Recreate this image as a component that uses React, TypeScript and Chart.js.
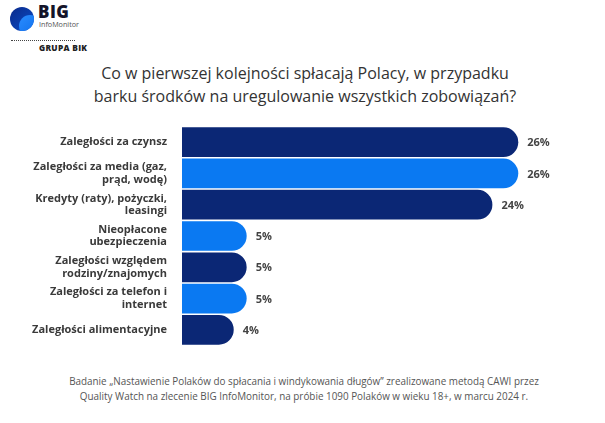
import React, { useEffect, useRef } from "react";
import { Chart, registerables } from "chart.js";

Chart.register(...registerables);

const categories: string[][] = [
  ["Zaległości za czynsz"],
  ["Zaległości za media (gaz,", "prąd, wodę)"],
  ["Kredyty (raty), pożyczki,", "leasingi"],
  ["Nieopłacone", "ubezpieczenia"],
  ["Zaległości względem", "rodziny/znajomych"],
  ["Zaległości za telefon i", "internet"],
  ["Zaległości alimentacyjne"],
];
const values: number[] = [26, 26, 24, 5, 5, 5, 4];
const barColors: string[] = ["#0b2775", "#0a79f2", "#0b2775", "#0a79f2", "#0b2775", "#0a79f2", "#0b2775"];

const titleLines: string[] = [
  "Co w pierwszej kolejności spłacają Polacy, w przypadku",
  "barku środków na uregulowanie wszystkich zobowiązań?",
];
const footerLines: string[] = [
  "Badanie „Nastawienie Polaków do spłacania i windykowania długów” zrealizowane metodą CAWI przez",
  "Quality Watch na zlecenie BIG InfoMonitor, na próbie 1090 Polaków w wieku 18+, w marcu 2024 r.",
];

const FONT = "'Open Sans', 'Noto Sans', sans-serif";

const valueLabelPlugin = {
  id: "valueLabels",
  afterDatasetsDraw(chart: any) {
    const ctx = chart.ctx;
    const meta = chart.getDatasetMeta(0);
    ctx.save();
    ctx.font = `bold 11px ${FONT}`;
    ctx.fillStyle = "#444444";
    ctx.textAlign = "left";
    ctx.textBaseline = "middle";
    meta.data.forEach((bar: any, i: number) => {
      ctx.fillText(`${values[i]}%`, bar.x + 9, bar.y + 1);
    });
    ctx.restore();
  },
};

export default function App() {
  const canvasRef = useRef<HTMLCanvasElement | null>(null);

  useEffect(() => {
    if (!canvasRef.current) return;
    const chart = new Chart(canvasRef.current, {
      type: "bar",
      data: {
        labels: categories,
        datasets: [
          {
            data: values,
            backgroundColor: barColors,
            borderRadius: 20,
            borderSkipped: "start",
            barPercentage: 0.95,
            categoryPercentage: 1,
          },
        ],
      },
      options: {
        indexAxis: "y",
        animation: false,
        responsive: false,
        maintainAspectRatio: false,
        layout: { padding: { left: 0, right: 35, top: 16.5, bottom: 14.5 } },
        plugins: {
          legend: { display: false },
          tooltip: { enabled: false },
          title: { display: false },
        },
        scales: {
          x: {
            display: false,
            min: 0,
            max: 30,
          },
          y: {
            grid: { display: false, drawTicks: false },
            border: { display: false },
            ticks: {
              color: "#3a3a3a",
              font: { family: FONT, size: 11, weight: "bold", lineHeight: 1.15 },
              padding: 15,
              autoSkip: false,
            },
            afterFit: (scale: any) => {
              scale.width = 182;
              scale.paddingTop = 0;
              scale.paddingBottom = 0;
            },
          },
        },
      },
      plugins: [valueLabelPlugin],
    });
    return () => chart.destroy();
  }, []);

  return (
    <div
      style={{
        position: "absolute",
        left: 0,
        top: 0,
        width: 605,
        height: 423,
        background: "#ffffff",
        fontFamily: FONT,
        overflow: "hidden",
      }}
    >
      {/* Logo */}
      <div
        style={{
          position: "absolute",
          left: 10,
          top: 7,
          width: 24,
          height: 24,
          borderRadius: "50%",
          background: "linear-gradient(135deg, #0b2a8a 0%, #0a3fb0 60%, #1a5fd8 100%)",
          overflow: "hidden",
        }}
      >
        <div
          style={{
            position: "absolute",
            left: 9,
            top: 8,
            width: 22,
            height: 22,
            borderRadius: "50%",
            background: "linear-gradient(135deg, #2a8cff 0%, #0a6ae8 100%)",
          }}
        />
      </div>
      <div
        style={{
          position: "absolute",
          left: 38,
          top: 3,
          fontSize: 17,
          fontWeight: 800,
          color: "#14142a",
          lineHeight: "18px",
          letterSpacing: 0.5,
        }}
      >
        BIG
      </div>
      <div
        style={{
          position: "absolute",
          left: 39,
          top: 20,
          fontSize: 7.2,
          color: "#555555",
          lineHeight: "9px",
        }}
      >
        InfoMonitor
      </div>
      <div
        style={{
          position: "absolute",
          left: 11,
          top: 40,
          width: 64,
          height: 0,
          borderTop: "1px dotted #444444",
        }}
      />
      <div
        style={{
          position: "absolute",
          left: 39,
          top: 43,
          fontSize: 8.3,
          fontWeight: 800,
          color: "#222222",
          lineHeight: "9px",
          letterSpacing: 0.3,
        }}
      >
        GRUPA BIK
      </div>

      {/* Title */}
      <div
        style={{
          position: "absolute",
          left: 0,
          top: 62,
          width: 610,
          textAlign: "center",
          fontSize: 16,
          lineHeight: "23px",
          color: "#333333",
        }}
      >
        {titleLines.map((t, i) => (
          <div key={i}>{t}</div>
        ))}
      </div>

      {/* Chart */}
      <canvas
        ref={canvasRef}
        width={605}
        height={250}
        style={{ position: "absolute", left: 0, top: 110, width: 605, height: 250 }}
      />

      {/* Footer */}
      <div
        style={{
          position: "absolute",
          left: 0,
          top: 374,
          width: 608,
          textAlign: "center",
          fontSize: 9.9,
          lineHeight: "15px",
          color: "#555555",
        }}
      >
        {footerLines.map((t, i) => (
          <div key={i}>{t}</div>
        ))}
      </div>
    </div>
  );
}
